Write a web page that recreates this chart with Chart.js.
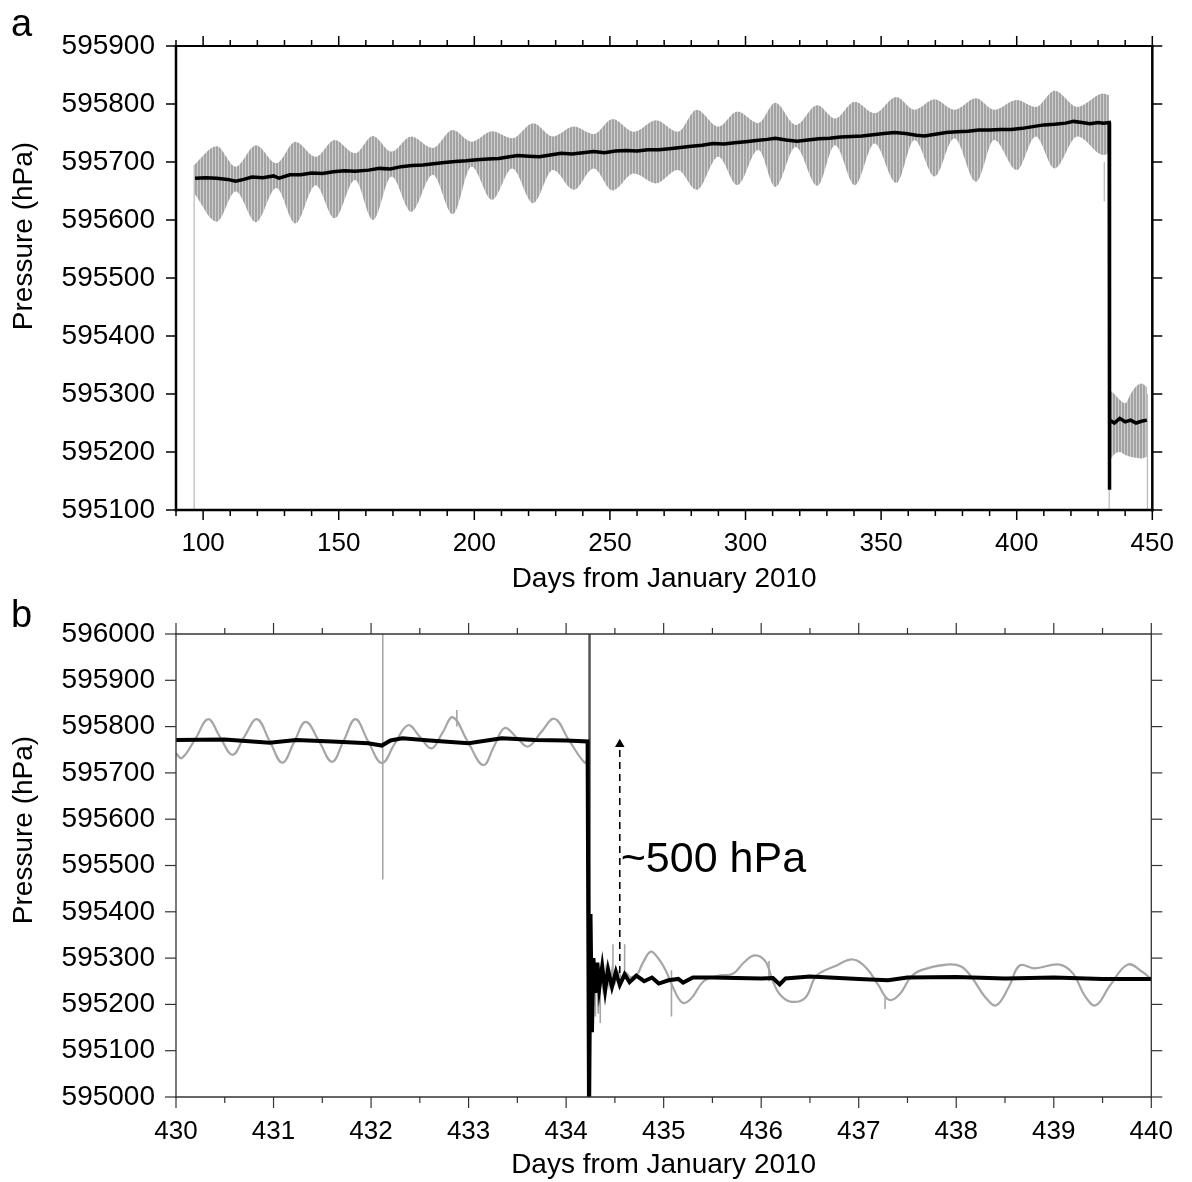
<!DOCTYPE html>
<html>
<head>
<meta charset="utf-8">
<script src="https://cdn.jsdelivr.net/npm/chart.js@4.4.1/dist/chart.umd.min.js"></script>
<style>
html,body{margin:0;padding:0;background:#fff;}
#wrap{position:relative;width:1192px;height:1182px;overflow:hidden;background:#fff;}
.panel{position:absolute;left:0;width:1192px;}
#pa{top:0;height:600px;}
#pb{top:591px;height:591px;}
.letter{position:absolute;left:11px;font-family:"Liberation Sans",Arial,Helvetica,sans-serif;font-size:38px;line-height:38px;color:#000;}
</style>
</head>
<body>
<div id="wrap">
  <div class="panel" id="pa"><canvas id="ca" width="1192" height="600"></canvas></div>
  <div class="panel" id="pb"><canvas id="cb" width="1192" height="591"></canvas></div>
  <div class="letter" style="top:4px">a</div>
  <div class="letter" style="top:595px">b</div>
</div>
<script>
// ---------------- Panel a data ----------------
const envDaysA = [96.7,105,112,119.5,127,134,141.5,148.5,156,162.6,169.5,176.7,184.7,192,199,206.5,214,221.7,229,236.7,244,251,258.8,267,275,282,290,297,304.7,311,318.5,326.5,333,340.3,347.6,355.6,362.3,369.7,377,385,391.7,400,407,414,422.4,432,434.0];
const envUpperA = [595695,595727,595692,595729,595698,595735,595709,595738,595715,595745,595718,595744,595724,595755,595735,595753,595741,595767,595744,595761,595748,595774,595752,595772,595752,595790,595761,595787,595767,595802,595764,595798,595775,595804,595784,595812,595790,595808,595790,595810,595790,595807,595795,595823,595795,595818,595815];
const envLowerA = [595646,595597,595649,595596,595655,595594,595660,595603,595669,595600,595675,595614,595678,595610,595692,595635,595689,595629,595686,595652,595689,595651,595680,595663,595686,595652,595709,595660,595721,595657,595726,595659,595729,595660,595732,595664,595738,595675,595741,595666,595738,595686,595744,595689,595744,595712,595715];
const postDaysA = [434.4,436,438,440,442,444,446,448];
const postUpperA = [595307,595300,595290,595284,595300,595313,595318,595312];
const postLowerA = [595186,595196,595200,595195,595192,595190,595189,595192];
const spikeDaysA = [96.7,432.3,434.1,448.2];
const spikeTopA = [595695,595700,595715,595300];
const spikeBotA = [595090,595632,595090,595090];
const blackDaysA = [97,101,105,109,112,115,118,122,126,128,132,136,140,144,148,152,156,161,165,169,173,177,181,185,189,193,197,201,205,209,213,216,220,224,228,232,236,240,244,248,252,256,260,264,268,272,276,280,284,288,292,296,300,304,308,311,315,319,323,327,331,335,339,343,347,351,355,359,363,366,370,374,378,382,386,390,394,398,402,406,410,414,418,421,424,427,430,432,434.1,434.15,434.3,436,438,440,442,444,446,448];
const blackValsA = [595672,595673,595672,595670,595667,595670,595674,595673,595676,595672,595678,595678,595681,595680,595683,595685,595684,595686,595689,595688,595692,595694,595695,595697,595699,595701,595702,595704,595705,595706,595709,595711,595710,595709,595712,595715,595714,595716,595718,595716,595719,595720,595719,595721,595721,595723,595725,595727,595729,595732,595731,595733,595735,595737,595739,595741,595738,595736,595738,595740,595741,595743,595744,595745,595747,595749,595751,595749,595746,595745,595748,595751,595752,595753,595755,595755,595756,595756,595758,595761,595764,595765,595767,595770,595768,595766,595768,595767,595768,595135,595255,595250,595258,595252,595255,595250,595253,595255];

// ---------------- Panel b data ----------------
const grayPreDaysB = [430.00,430.06,430.20,430.33,430.45,430.58,430.70,430.83,430.96,431.09,431.21,431.33,431.47,431.60,431.72,431.84,431.97,432.11,432.24,432.38,432.50,432.62,432.73,432.84,432.99,433.15,433.26,433.37,433.49,433.61,433.74,433.88,434.03,434.19,434.22];
const grayPreValsB = [595742,595732,595774,595816,595778,595739,595778,595816,595769,595722,595766,595810,595767,595724,595770,595816,595768,595721,595762,595803,595778,595753,595786,595820,595768,595717,595757,595797,595777,595757,595787,595817,595770,595722,595730];
const grayNoiseDaysB = [434.22,434.25,434.27,434.29,434.31,434.33,434.35,434.38,434.41,434.44,434.47,434.50,434.54,434.58,434.62,434.66,434.70,434.74];
const grayNoiseValsB = [595730,595200,595300,595220,595285,595180,595270,595230,595280,595240,595275,595245,595270,595250,595268,595258,595262,595268];
const grayPostDaysB = [434.74,434.80,434.87,434.95,435.02,435.10,435.19,435.28,435.41,435.56,435.71,435.82,435.93,436.04,436.12,436.19,436.30,436.45,436.55,436.62,436.75,436.94,437.08,437.20,437.31,437.42,437.53,437.64,437.90,438.05,438.16,438.30,438.41,438.54,438.65,438.80,439.06,439.20,439.32,439.43,439.58,439.76,439.91,440.00];
const grayPostValsB = [595268,595295,595314,595298,595274,595235,595204,595212,595250,595262,595266,595290,595306,595294,595250,595222,595206,595214,595258,595270,595282,595297,595278,595242,595210,595222,595258,595274,595286,595282,595258,595215,595198,595238,595284,595278,595286,595266,595218,595198,595242,595286,595270,595254];
const spikeDaysB = [432.12,432.88,434.30,434.35,434.48,434.60,435.08,436.08,437.27];
const spikeTopB = [596050,595836,595255,595250,595330,595330,595274,595294,595215];
const spikeBotB = [595470,595800,595174,595160,595255,595255,595174,595250,595190];
const dropDaysB = [434.24];
const dropTopB = [596050];
const dropBotB = [594950];
const blackDaysB = [430,430.5,430.96,431.23,431.6,431.97,432.11,432.2,432.32,432.6,433.0,433.34,433.68,434.0,434.22,434.235,434.25,434.265,434.28,434.30,434.32,434.34,434.37,434.40,434.43,434.47,434.51,434.55,434.6,434.65,434.72,434.8,434.88,434.95,435.05,435.15,435.2,435.3,435.5,436.0,436.12,436.19,436.25,436.5,437.0,437.3,437.5,438.0,438.5,439.0,439.5,440];
const blackValsB = [595771,595772,595765,595771,595768,595764,595759,595770,595775,595770,595764,595775,595771,595770,595768,594950,595395,595140,595300,595225,595290,595235,595282,595230,595275,595238,595270,595242,595265,595248,595262,595250,595258,595245,595252,595255,595247,595258,595258,595256,595257,595243,595256,595260,595255,595252,595258,595259,595256,595258,595255,595255];
const arrowDaysB = [434.55,434.55];
const arrowValsB = [595268,595762];
const noteDaysB = [434.56];
const noteValsB = [595486];
const noteTextB = '~500 hPa';

// axis texts
const xTitle = 'Days from January 2010';
const yTitleText = 'Pressure (hPa)';

// ---------------- helpers ----------------
const FONT = '"Liberation Sans", Arial, Helvetica, sans-serif';
Chart.defaults.font.family = FONT;
Chart.defaults.color = '#000';

function pts(xs, ys){ return xs.map((x,i)=>({x:x, y:ys[i]})); }
function segs(xs, tops, bots){
  const out = [];
  xs.forEach((x,i)=>{ out.push({x:x,y:tops[i]},{x:x,y:bots[i]},{x:x,y:null}); });
  return out;
}
function stripes(){
  const c = document.createElement('canvas'); c.width = 3; c.height = 4;
  const g = c.getContext('2d');
  g.fillStyle = '#cdcdcd'; g.fillRect(0,0,3,4);
  g.fillStyle = '#a3a3a3'; g.fillRect(0,0,2,4);
  return g.createPattern(c,'repeat');
}

const frameTicks = {
  id:'frameTicks',
  afterDatasetsDraw(chart, args, o){
    const ctx = chart.ctx, a = chart.chartArea, xs = chart.scales.x, ys = chart.scales.y;
    ctx.save();
    ctx.strokeStyle = o.color; ctx.lineCap = 'butt'; ctx.setLineDash([]);
    const ln = (x1,y1,x2,y2,w)=>{ ctx.lineWidth = w; ctx.beginPath(); ctx.moveTo(x1,y1); ctx.lineTo(x2,y2); ctx.stroke(); };
    const each = (sc, step, fn)=>{
      const n0 = Math.ceil(sc.min/step - 1e-9), n1 = Math.floor(sc.max/step + 1e-9);
      for(let n=n0;n<=n1;n++){ const v = n*step; fn(sc.getPixelForValue(v), v); }
    };
    each(xs, o.xMinor, (p,v)=>{
      const r = v/o.xMajor; const major = Math.abs(r-Math.round(r))<1e-6;
      const L = major ? o.majorLen : o.minorLen;
      ln(p, a.bottom, p, a.bottom+L, o.tickWidth);
      ln(p, a.top, p, a.top-L, o.tickWidth);
    });
    each(ys, o.yMajor, (p)=>{
      ln(a.left, p, a.left-o.majorLen, p, o.tickWidth);
      ln(a.right, p, a.right+o.majorLen, p, o.tickWidth);
    });
    const f = o.frame;
    ln(a.left-f.left/2, a.top, a.right+f.right/2, a.top, f.top);
    ln(a.left-f.left/2, a.bottom, a.right+f.right/2, a.bottom, f.bottom);
    ln(a.left, a.top-f.top/2, a.left, a.bottom+f.bottom/2, f.left);
    ln(a.right, a.top-f.top/2, a.right, a.bottom+f.bottom/2, f.right);
    ctx.restore();
  }
};
const yTitlePlugin = {
  id:'yTitle',
  afterDraw(chart, args, o){
    const ctx = chart.ctx; ctx.save();
    ctx.translate(o.x, o.y); ctx.rotate(-Math.PI/2);
    ctx.font = o.size + 'px ' + FONT; ctx.fillStyle = '#000';
    ctx.textAlign = 'center'; ctx.textBaseline = 'middle';
    ctx.fillText(o.text, 0, 0); ctx.restore();
  }
};
const notePlugin = {
  id:'note',
  afterDatasetsDraw(chart, args, o){
    if(!o.texts) return;
    const ctx = chart.ctx; ctx.save();
    ctx.font = o.size + 'px ' + FONT; ctx.fillStyle = '#000';
    ctx.textAlign = 'left'; ctx.textBaseline = 'alphabetic';
    o.texts.forEach((t,i)=>{
      ctx.fillText(t, chart.scales.x.getPixelForValue(o.xs[i]), chart.scales.y.getPixelForValue(o.ys[i]));
    });
    ctx.restore();
  }
};

function baseOptions(cfg){
  return {
    responsive:false, animation:false, devicePixelRatio:1, events:[],
    layout:{padding:{top:cfg.padTop, right:36, bottom:0, left:0}},
    elements:{point:{radius:0}},
    plugins:{legend:{display:false}, tooltip:{enabled:false},
      frameTicks:cfg.frame, yTitle:cfg.ytitle, note:cfg.note||{}},
    scales:{
      x:{type:'linear', min:cfg.xmin, max:cfg.xmax,
         grid:{display:false, drawTicks:false}, border:{display:false},
         ticks:{stepSize:cfg.xstep, includeBounds:false, padding:cfg.xpad, autoSkip:false, maxRotation:0,
                font:{size:26}, color:'#000', callback:v=>String(v)},
         title:{display:true, text:xTitle, color:'#000', font:{size:28}, padding:{top:0, bottom:cfg.titlePad}},
         afterFit(s){ s.height = cfg.xh; }},
      y:{type:'linear', min:cfg.ymin, max:cfg.ymax,
         grid:{display:false, drawTicks:false}, border:{display:false},
         ticks:{stepSize:100, padding:21, font:{size:28}, color:'#000', callback:v=>String(v)},
         afterFit(s){ s.width = 176; }}
    }
  };
}

// ---------------- Chart a ----------------
new Chart(document.getElementById('ca'), {
  type:'line',
  data:{datasets:[
    {data:pts(blackDaysA, blackValsA), borderColor:'#000', borderWidth:3.5, pointRadius:0, tension:0, order:0},
    {data:segs(spikeDaysA, spikeTopA, spikeBotA), borderColor:'#bdbdbd', borderWidth:1.3, pointRadius:0, spanGaps:false, order:1},
    {data:pts(envDaysA, envLowerA), borderColor:'rgba(0,0,0,0)', borderWidth:1, pointRadius:0, cubicInterpolationMode:'monotone', fill:false, order:2},
    {data:pts(envDaysA, envUpperA), borderColor:'rgba(0,0,0,0)', borderWidth:1, pointRadius:0, cubicInterpolationMode:'monotone', fill:'-1', backgroundColor:stripes(), order:2},
    {data:pts(postDaysA, postLowerA), borderColor:'rgba(0,0,0,0)', borderWidth:1, pointRadius:0, cubicInterpolationMode:'monotone', fill:false, order:2},
    {data:pts(postDaysA, postUpperA), borderColor:'rgba(0,0,0,0)', borderWidth:1, pointRadius:0, cubicInterpolationMode:'monotone', fill:'-1', backgroundColor:stripes(), order:2}
  ]},
  options: baseOptions({padTop:46, xmin:90, xmax:450, xstep:50, xpad:18, xh:90, titlePad:4,
    ymin:595100, ymax:595900,
    frame:{color:'#000', tickWidth:1.5, majorLen:10, minorLen:6, xMajor:50, xMinor:10, yMajor:100, frame:{top:2, right:2.5, bottom:2.5, left:2.5}},
    ytitle:{text:yTitleText, x:24, y:236, size:28}}),
  plugins:[frameTicks, yTitlePlugin, notePlugin]
});

// ---------------- Chart b ----------------
new Chart(document.getElementById('cb'), {
  type:'line',
  data:{datasets:[
    {data:pts(blackDaysB, blackValsB), borderColor:'#000', borderWidth:4, pointRadius:0, tension:0, order:0},
    {data:pts(arrowDaysB, arrowValsB), borderColor:'#000', borderWidth:1.6, borderDash:[7,5], pointRadius:[0,5.5], pointStyle:'triangle', pointBackgroundColor:'#000', pointBorderWidth:0, order:0},
    {data:segs(dropDaysB, dropTopB, dropBotB), borderColor:'#555', borderWidth:2.5, pointRadius:0, spanGaps:false, order:1},
    {data:segs(spikeDaysB, spikeTopB, spikeBotB), borderColor:'#a6a6a6', borderWidth:1.6, pointRadius:0, spanGaps:false, order:2},
    {data:pts(grayNoiseDaysB, grayNoiseValsB), borderColor:'#a6a6a6', borderWidth:1.6, pointRadius:0, tension:0, order:2},
    {data:pts(grayPreDaysB, grayPreValsB), borderColor:'#a6a6a6', borderWidth:2.2, pointRadius:0, tension:0.4, order:2},
    {data:pts(grayPostDaysB, grayPostValsB), borderColor:'#a6a6a6', borderWidth:2.2, pointRadius:0, tension:0.4, order:2}
  ]},
  options: baseOptions({padTop:43, xmin:430, xmax:440, xstep:1, xpad:19, xh:85, titlePad:0,
    ymin:595000, ymax:596000,
    frame:{color:'#333', tickWidth:1.2, majorLen:11, minorLen:6, xMajor:1, xMinor:0.5, yMajor:100, frame:{top:1.3, right:1.3, bottom:1.3, left:1.3}},
    ytitle:{text:yTitleText, x:24, y:239, size:28},
    note:{texts:[noteTextB], xs:noteDaysB, ys:noteValsB, size:43}}),
  plugins:[frameTicks, yTitlePlugin, notePlugin]
});
</script>
</body>
</html>
